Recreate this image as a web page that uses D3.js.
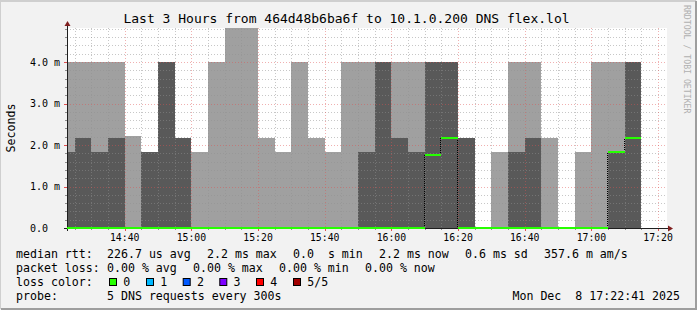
<!DOCTYPE html>
<html>
<head>
<meta charset="utf-8">
<script src="https://cdn.jsdelivr.net/npm/d3@7"></script>
<style>
body { margin: 0; background: #fff; }
svg text { font-family: "DejaVu Sans Mono", monospace; white-space: pre; }
</style>
</head>
<body>
<div id="chart"></div>
<script>
// smokeping graph: 5 min bins, values in ms
const binStarts = ["14:20","14:25","14:30","14:35","14:40","14:45","14:50","14:55",
    "15:00","15:05","15:10","15:15","15:20","15:25","15:30","15:35","15:40","15:45","15:50","15:55",
    "16:00","16:05","16:10","16:15","16:20","16:25","16:30","16:35","16:40","16:45","16:50","16:55",
    "17:00","17:05","17:10","17:15","17:20"];
// outer smoke (light) top, inner smoke (dark) top, median rtt
const smokeOuter = [4.0,4.0,4.0,4.0,2.22,1.83,4.0,2.17,
    1.83,4.0,4.9,4.9,2.17,1.83,4.0,2.17,1.83,4.0,4.0,4.0,
    4.0,4.0,4.0,4.0,2.17,0,1.83,4.0,4.0,2.17,0,1.83,
    4.0,4.0,4.0,null,null];
const smokeInner = [1.83,2.17,1.83,2.17,0,1.83,4.0,2.17,
    0,0,0,0,0,0,0,0,0,0,1.83,4.0,
    2.17,1.83,4.0,4.0,2.17,0,0,1.83,2.17,0,0,0,
    0,1.83,4.0,null,null];
const medianRtt = [0,0,0,0,0,0,0,0,
    0,0,0,0,0,0,0,0,0,0,0,0,
    0,0,1.76,2.17,0,0,0,0,0,0,0,0,
    0,1.83,2.17,null,null];

const yTicks = [0, 1, 2, 3, 4];
const yTickLabels = ["0.0  ", "1.0 m", "2.0 m", "3.0 m", "4.0 m"];
const xTickLabels = ["14:40","15:00","15:20","15:40","16:00","16:20","16:40","17:00","17:20"];

const lossLabels = ["0", "1", "2", "3", "4", "5/5"];
const lossColors = ["#26ff00", "#00b8ff", "#0059ff", "#7e00ff", "#ff0000", "#a10000"];

const W = 697, H = 310;
const plot = {left: 67, right: 667, top: 28, bottom: 228};

const parseT = d3.timeParse("%H:%M:%S");
const t0 = parseT("14:22:41"), t1 = parseT("17:22:41");

const x = d3.scaleTime().domain([t0, t1]).range([plot.left, plot.right]);
const y = d3.scaleLinear().domain([0, 4.82]).range([plot.bottom, plot.top]);

const svg = d3.select("#chart").append("svg")
    .attr("width", W).attr("height", H);

// background + 3d frame
svg.append("rect").attr("width", W).attr("height", H).attr("fill", "#f2f2f2");
svg.append("path").attr("d", `M0,${H-1} V1 H${W-1}`).attr("stroke", "#cfcfcf").attr("stroke-width", 2).attr("fill", "none");
svg.append("path").attr("d", `M1,${H-1} H${W-1} V1`).attr("stroke", "#9e9e9e").attr("stroke-width", 2).attr("fill", "none");

svg.append("rect")
    .attr("x", plot.left).attr("y", plot.top)
    .attr("width", plot.right - plot.left).attr("height", plot.bottom - plot.top)
    .attr("fill", "#fff");

const bins = binStarts.map(function(s, i){
    const st = parseT(s + ":00");
    const en = d3.timeMinute.offset(st, 5);
    return {
        x0: Math.max(x(st), plot.left),
        x1: Math.min(x(en), plot.right),
        outer: smokeOuter[i], inner: smokeInner[i], median: medianRtt[i]
    };
});

const clipY = v => Math.max(y(v), plot.top);

// smoke
const smoke = svg.append("g").attr("shape-rendering", "crispEdges");
smoke.selectAll("rect.outer").data(bins.filter(d => d.outer)).enter()
    .append("rect").attr("class", "outer")
    .attr("x", d => d.x0).attr("width", d => d.x1 - d.x0)
    .attr("y", d => clipY(d.outer)).attr("height", d => y(0) - clipY(d.outer))
    .attr("fill", "#a0a0a0");
smoke.selectAll("rect.inner").data(bins.filter(d => d.inner)).enter()
    .append("rect").attr("class", "inner")
    .attr("x", d => d.x0).attr("width", d => d.x1 - d.x0)
    .attr("y", d => clipY(d.inner)).attr("height", d => y(0) - clipY(d.inner))
    .attr("fill", "#595959");

// grid
const grid = svg.append("g").attr("shape-rendering", "crispEdges");
const minorX = d3.timeMinute.every(5).range(t0, t1).filter(t => t.getMinutes() % 20 != 0);
const majorX = d3.timeMinute.every(20).range(t0, t1);
const minorY = d3.range(1, 25).map(i => i * 0.2).filter(v => Math.abs(v - Math.round(v)) > 1e-6);
const minorCol = "rgba(143,143,143,0.5)", majorCol = "rgba(222,79,79,0.45)";

grid.selectAll("line.mx").data(minorX).enter().append("line")
    .attr("x1", d => Math.round(x(d)) + 0.5).attr("x2", d => Math.round(x(d)) + 0.5)
    .attr("y1", plot.top).attr("y2", plot.bottom)
    .attr("stroke", minorCol).attr("stroke-dasharray", "1,2");
grid.selectAll("line.my").data(minorY).enter().append("line")
    .attr("y1", d => Math.round(y(d)) + 0.5).attr("y2", d => Math.round(y(d)) + 0.5)
    .attr("x1", plot.left).attr("x2", plot.right)
    .attr("stroke", minorCol).attr("stroke-dasharray", "1,2");
grid.selectAll("line.Mx").data(majorX).enter().append("line")
    .attr("x1", d => Math.round(x(d)) + 0.5).attr("x2", d => Math.round(x(d)) + 0.5)
    .attr("y1", plot.top).attr("y2", plot.bottom)
    .attr("stroke", majorCol).attr("stroke-dasharray", "1,2");
grid.selectAll("line.My").data(yTicks.slice(1)).enter().append("line")
    .attr("y1", d => Math.round(y(d)) + 0.5).attr("y2", d => Math.round(y(d)) + 0.5)
    .attr("x1", plot.left).attr("x2", plot.right)
    .attr("stroke", majorCol).attr("stroke-dasharray", "1,2");

// axis ticks
grid.selectAll("line.tx").data(minorX).enter().append("line")
    .attr("x1", d => Math.round(x(d)) + 0.5).attr("x2", d => Math.round(x(d)) + 0.5)
    .attr("y1", plot.bottom).attr("y2", plot.bottom + 2).attr("stroke", "#8f8f8f");
grid.selectAll("line.tX").data(majorX).enter().append("line")
    .attr("x1", d => Math.round(x(d)) + 0.5).attr("x2", d => Math.round(x(d)) + 0.5)
    .attr("y1", plot.bottom).attr("y2", plot.bottom + 3).attr("stroke", "#de4f4f");
grid.selectAll("line.ty").data(minorY).enter().append("line")
    .attr("y1", d => Math.round(y(d)) + 0.5).attr("y2", d => Math.round(y(d)) + 0.5)
    .attr("x1", plot.left - 2).attr("x2", plot.left).attr("stroke", "#8f8f8f");
grid.selectAll("line.tY").data(yTicks.slice(1)).enter().append("line")
    .attr("y1", d => Math.round(y(d)) + 0.5).attr("y2", d => Math.round(y(d)) + 0.5)
    .attr("x1", plot.left - 3).attr("x2", plot.left).attr("stroke", "#de4f4f");

// axes
svg.append("line").attr("x1", plot.left - 3).attr("x2", plot.right + 2)
    .attr("y1", plot.bottom + 0.5).attr("y2", plot.bottom + 0.5)
    .attr("stroke", "#1f1f1f").attr("shape-rendering", "crispEdges");
svg.append("line").attr("x1", plot.left + 0.5).attr("x2", plot.left + 0.5)
    .attr("y1", plot.bottom + 3).attr("y2", plot.top - 3)
    .attr("stroke", "#1f1f1f").attr("shape-rendering", "crispEdges");
svg.append("path").attr("d", `M${plot.left + 0.5 - 3},${plot.top - 2} L${plot.left + 0.5 + 3},${plot.top - 2} L${plot.left + 0.5},${plot.top - 7} Z`)
    .attr("fill", "#801f1f");
svg.append("path").attr("d", `M${plot.right + 1},${plot.bottom + 0.5 - 3} L${plot.right + 1},${plot.bottom + 0.5 + 3} L${plot.right + 6},${plot.bottom + 0.5} Z`)
    .attr("fill", "#801f1f");

// median line, coloured by loss (all 0 here)
const med = svg.append("g").attr("shape-rendering", "crispEdges");
bins.forEach(function(d, i){
    if (d.median == null) return;
    const prev = i > 0 ? bins[i - 1].median : null;
    if (prev != null && prev != d.median) {
        med.append("line")
            .attr("x1", Math.round(d.x0) - 0.5).attr("x2", Math.round(d.x0) - 0.5)
            .attr("y1", y(prev)).attr("y2", y(d.median))
            .attr("stroke", "#000").attr("stroke-dasharray", "1,1");
    }
});
med.selectAll("line.m").data(bins.filter(d => d.median != null)).enter()
    .append("line").attr("class", "m")
    .attr("x1", d => d.x0).attr("x2", d => d.x1)
    .attr("y1", d => Math.round(y(d.median)) - 0.5).attr("y2", d => Math.round(y(d.median)) - 0.5)
    .attr("stroke", lossColors[0]).attr("stroke-width", 2);

// axis labels
svg.selectAll("text.yl").data(yTicks).enter().append("text")
    .attr("x", plot.left - 7).attr("y", d => y(d) + 3.5)
    .attr("text-anchor", "end").attr("font-size", "10px")
    .text((d, i) => yTickLabels[i]);
svg.selectAll("text.xl").data(xTickLabels).enter().append("text")
    .attr("x", d => x(parseT(d + ":00"))).attr("y", 241)
    .attr("text-anchor", "middle").attr("font-size", "9.8px")
    .text(d => d);

svg.append("text").attr("x", 346.5).attr("y", 23)
    .attr("text-anchor", "middle").attr("font-size", "13px")
    .text("Last 3 Hours from 464d48b6ba6f to 10.1.0.200 DNS flex.lol");

svg.append("text").attr("transform", "translate(15,128) rotate(-90)")
    .attr("text-anchor", "middle").attr("font-size", "11.6px")
    .text("Seconds");

svg.append("text").attr("transform", "translate(684,5) rotate(90)")
    .attr("font-size", "8.2px").attr("fill", "#b0b0b0")
    .text("RRDTOOL / TOBI OETIKER");

// legend
const fs = "11.6px";
const row1 = [[16, "median rtt:"], [107, "226.7 us avg"], [207, "2.2 ms max"], [293, "0.0  s min"],
    [379, "2.2 ms now"], [465, "0.6 ms sd"], [544, "357.6 m am/s"]];
const row2 = [[16, "packet loss:"], [107, "0.00 % avg"], [193, "0.00 % max"], [279, "0.00 % min"], [365, "0.00 % now"]];
const legend = svg.append("g").attr("font-size", fs);
row1.forEach(r => legend.append("text").attr("x", r[0]).attr("y", 258).text(r[1]));
row2.forEach(r => legend.append("text").attr("x", r[0]).attr("y", 272).text(r[1]));
legend.append("text").attr("x", 16).attr("y", 286).text("loss color:");
const boxX = [109, 146, 182.7, 219.3, 256, 293];
lossLabels.forEach(function(l, i){
    legend.append("rect").attr("x", boxX[i] + 0.5).attr("y", 278.5)
        .attr("width", 7).attr("height", 7)
        .attr("fill", lossColors[i]).attr("stroke", "#000").attr("stroke-width", 1);
    legend.append("text").attr("x", boxX[i] + 14.3).attr("y", 286).text(l);
});
legend.append("text").attr("x", 16).attr("y", 300).text("probe:");
legend.append("text").attr("x", 107).attr("y", 300).text("5 DNS requests every 300s");
legend.append("text").attr("x", 680).attr("y", 300).attr("text-anchor", "end").text("Mon Dec  8 17:22:41 2025");
</script>
</body>
</html>
